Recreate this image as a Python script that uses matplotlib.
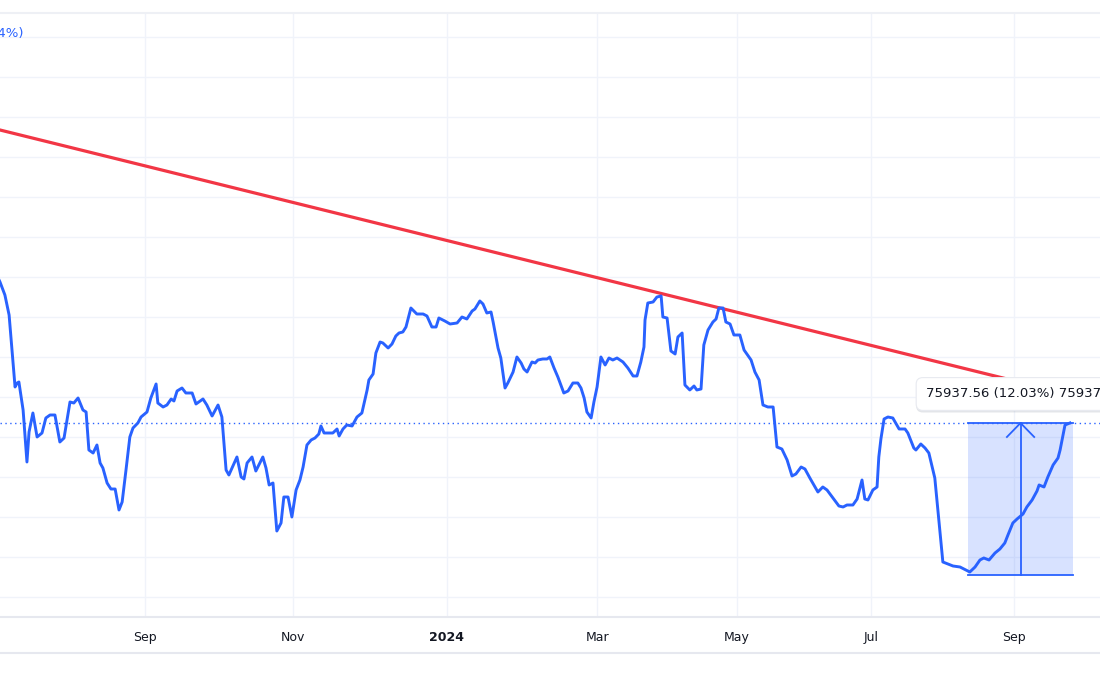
import matplotlib
matplotlib.use("Agg")
import matplotlib.pyplot as plt
import matplotlib.patheffects as pe
from matplotlib.patches import Rectangle
from matplotlib.lines import Line2D

# ---------------- data (bar index, close price) ----------------
bars = [-1.0, 0.0, 1.4, 2.6, 4.3, 4.9, 5.4, 6.6, 7.7, 8.3, 9.4, 10.6, 12.0, 13.1, 14.3, 15.7,
        17.1, 18.3, 20.0, 21.1, 22.3, 23.7, 24.6, 25.4, 26.6, 27.7, 28.6, 29.4, 30.6, 31.7,
        32.9, 34.0, 34.9, 36.0, 37.1, 38.0, 39.4, 40.3, 42.0, 43.1, 44.6, 45.1, 46.6, 47.7,
        48.9, 49.7, 50.6, 52.0, 53.1, 54.9, 56.0, 58.0, 59.1, 60.6, 62.3, 63.4, 64.6, 65.4,
        67.7, 68.9, 69.7, 70.6, 72.0, 73.1, 75.1, 76.0, 76.9, 78.0, 79.1, 80.3, 81.1, 82.3,
        83.4, 84.6, 85.7, 86.6, 87.7, 88.9, 90.0, 91.1, 91.7, 92.6, 95.1, 96.3, 96.9, 98.0,
        99.1, 100.6, 102.0, 103.4, 104.9, 105.4, 106.6, 107.4, 108.6, 109.4, 110.9, 112.0,
        113.1, 114.0, 115.1, 116.0, 117.4, 119.1, 120.9, 122.0, 123.4, 124.6, 125.4, 127.1,
        128.6, 130.6, 132.0, 133.4, 134.9, 135.7, 137.1, 138.0, 139.1, 140.3, 140.9, 142.3,
        143.1, 144.3, 145.1, 146.6, 147.7, 148.9, 149.7, 150.6, 152.0, 152.9, 153.7, 155.1,
        156.3, 157.1, 158.3, 159.4, 161.1, 162.3, 163.7, 165.1, 166.0, 166.9, 167.7, 168.9,
        169.7, 170.6, 171.7, 172.9, 174.0, 175.1, 176.3, 178.0, 179.4, 180.9, 182.0, 183.1,
        184.0, 184.3, 185.1, 186.6, 187.7, 188.9, 189.4, 190.6, 191.7, 192.9, 193.7, 194.9,
        195.7, 197.1, 198.3, 199.1, 200.3, 201.1, 202.3, 203.7, 204.6, 205.4, 206.6, 207.4,
        208.6, 209.7, 211.4, 212.6, 214.6, 215.7, 216.9, 218.0, 219.4, 220.9, 222.0, 223.4,
        224.9, 226.3, 227.4, 228.9, 230.0, 231.4, 233.7, 235.1, 236.3, 238.0, 239.7, 240.9,
        242.0, 243.7, 244.9, 246.3, 247.1, 248.0, 249.4, 250.6, 251.1, 251.7, 252.6, 253.7,
        255.1, 256.9, 258.6, 259.4, 261.1, 261.7, 263.1, 264.3, 265.4, 267.1, 269.4, 272.3,
        274.3, 276.0, 277.1, 278.6, 280.0, 281.1, 282.6, 284.3, 285.7, 287.1, 288.0, 289.4,
        290.6, 292.3, 293.4, 294.9, 296.3, 296.9, 298.3, 299.4, 300.9, 302.3, 302.9, 304.3,
        305.7]

close = [83900, 83501, 82803, 81731, 77869, 78083, 78137, 76635, 73846, 75455, 76474, 75187,
         75401, 76206, 76367, 76367, 74918, 75133, 77064, 77010, 77279, 76635, 76528, 74489,
         74328, 74757, 73792, 73524, 72719, 72397, 72397, 71271, 71700, 73416, 75187, 75669,
         75938, 76259, 76528, 77279, 78030, 77010, 76796, 76903, 77225, 77118, 77654, 77815,
         77547, 77547, 76957, 77225, 76903, 76313, 76903, 76259, 73416, 73148, 74114, 73041,
         72934, 73792, 74114, 73363, 74114, 73524, 72612, 72719, 70144, 70574, 71968, 71968,
         70895, 72344, 72880, 73577, 74757, 75026, 75133, 75347, 75777, 75401, 75401, 75616,
         75240, 75616, 75830, 75777, 76259, 76474, 77708, 78244, 78566, 79692, 80282, 80229,
         79961, 80175, 80604, 80765, 80819, 81087, 82106, 81784, 81784, 81677, 81087, 81087,
         81570, 81409, 81248, 81302, 81623, 81516, 81945, 82052, 82482, 82321, 81838, 81892,
         81355, 79961, 79424, 77815, 78083, 78673, 79478, 79156, 78834, 78673, 79210, 79156,
         79317, 79371, 79371, 79478, 78888, 78405, 77547, 77654, 78083, 78083, 77815, 77279,
         76528, 76206, 77064, 77869, 79478, 79049, 79424, 79317, 79424, 79210, 78888, 78459,
         78459, 79210, 80014, 81463, 82374, 82428, 82696, 82750, 81623, 81570, 79800, 79639,
         80551, 80765, 77976, 77708, 77922, 77708, 77761, 80121, 80926, 81355, 81516, 82106,
         82106, 81355, 81248, 80658, 80658, 79853, 79317, 78673, 78244, 76903, 76796, 76796,
         74650, 74543, 73953, 73095, 73202, 73577, 73470, 72987, 72236, 72505, 72344, 71915,
         71485, 71432, 71539, 71539, 71861, 72880, 71861, 71807, 72344, 72505, 74114, 75079,
         76152, 76259, 76206, 75616, 75616, 75401, 74597, 74489, 74811, 74597, 74328, 72987,
         68482, 68267, 68213, 68052, 67945, 68213, 68589, 68696, 68589, 68964, 69179, 69501,
         69930, 70574, 70788, 71056, 71432, 71807, 72290, 72612, 72505, 73041, 73685, 74060,
         74489, 75830, 75937.56]

tick_pos = [41.4, 83.7, 127.7, 170.6, 210.6, 248.9, 289.7]
tick_labels = ["Sep", "Nov", "2024", "Mar", "May", "Jul", "Sep"]

trend_start = (0.0, 91654)
trend_end = (314.3, 77064)

measure_low = 67783.6
measure_high = 75937.56
measure_pct = 12.03
measure_start = 276.6
measure_end = 306.6

y_min, y_max = 65531, 97930
x_min, x_max = 0.0, 314.3

BLUE = "#2962FF"
RED = "#F23645"
GRID = "#F0F3FA"
TEXT = "#131722"

fig = plt.figure(figsize=(11, 7), dpi=100)
ax = fig.add_axes([0, (700 - 617) / 700, 1, (617 - 13) / 700])
ax.set_xlim(x_min, x_max)
ax.set_ylim(y_min, y_max)

# grid
grid_vals = [96643 - 2145.6 * i for i in range(15)]
for g in grid_vals:
    ax.axhline(g, color=GRID, lw=1.0, zorder=0)
for t in tick_pos:
    ax.axvline(t, color=GRID, lw=1.0, zorder=0)

# spines
for s in ["left", "right"]:
    ax.spines[s].set_visible(False)
ax.spines["top"].set_color("#EEF0F5")
ax.spines["top"].set_linewidth(1.5)
ax.spines["bottom"].set_color("#E6E8EF")
ax.spines["bottom"].set_linewidth(1.5)
ax.set_yticks([])
ax.set_xticks(tick_pos)
ax.set_xticklabels(tick_labels)
ax.tick_params(axis="x", length=0, pad=10, labelsize=9, labelcolor=TEXT)
for lbl in ax.get_xticklabels():
    if lbl.get_text() == "2024":
        lbl.set_fontweight("bold")

# second band border under x labels
fig.add_artist(Line2D([0, 1], [(700 - 653) / 700] * 2, color="#E6E8EF", lw=1.5,
                      transform=fig.transFigure))

# measurement rectangle
ax.add_patch(Rectangle((measure_start, measure_low), measure_end - measure_start,
                       measure_high - measure_low, facecolor=BLUE, alpha=0.18,
                       edgecolor="none", zorder=2))
ax.plot([measure_start, measure_end], [measure_low, measure_low], color=BLUE, lw=1.3, zorder=3)
ax.plot([measure_start, measure_end], [measure_high, measure_high], color=BLUE, lw=1.3, zorder=3)
mid = (measure_start + measure_end) / 2
ax.plot([mid, mid], [measure_low, measure_high], color=BLUE, lw=1.3, zorder=3)
ax.plot([mid - 3.9, mid, mid + 3.9],
        [measure_high - 14 * 53.64, measure_high, measure_high - 14 * 53.64],
        color=BLUE, lw=1.3, zorder=3)

# price line (dotted)
ax.axhline(close[-1], color=BLUE, lw=1.0, ls=(0, (1, 2.5)), zorder=2)

# trend line
ax.axline(trend_start, trend_end, color=RED, lw=2.3, zorder=4)

# price line series
ax.plot(bars, close, color=BLUE, lw=2.1, zorder=5, solid_joinstyle="round")

# label box of the measurement
lab = ax.annotate(f"{measure_high:.2f} ({measure_pct:.2f}%) {measure_high:.2f}",
                  xy=(measure_start, measure_high), xytext=(-42, 29),
                  textcoords="offset pixels", ha="left", va="center",
                  fontsize=9.5, color=TEXT, zorder=10, annotation_clip=False,
                  bbox=dict(boxstyle="round,pad=0.75,rounding_size=0.5", fc="white",
                            ec="#E8EAF0", lw=0.8))
lab.get_bbox_patch().set_path_effects([
    pe.SimplePatchShadow(offset=(0, -1.5), shadow_rgbFace="#9098A8", alpha=0.25),
    pe.Normal()])

# clipped blue text at top-left (from another measurement label)
fig.text(23 / 1100, 1 - 33 / 700, "75937.56 (\u221213.84%)", ha="right", va="center",
         fontsize=9.5, color=BLUE)

fig.savefig("out.png", dpi=100)
